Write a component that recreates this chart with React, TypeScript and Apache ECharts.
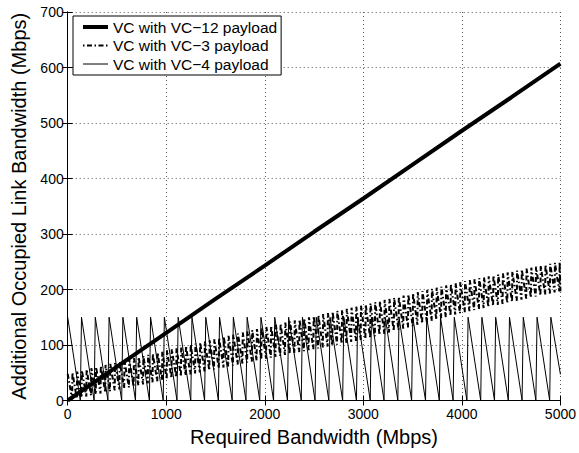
import React, { useEffect, useRef } from "react";
import * as echarts from "echarts";

// ---- axes ----
const X_MIN = 0;
const X_MAX = 5000;
const X_STEP = 1000;
const Y_MIN = 0;
const Y_MAX = 700;
const Y_STEP = 100;
const xAxisTitle = "Required Bandwidth (Mbps)";
const yAxisTitle = "Additional Occupied Link Bandwidth (Mbps)";

// ---- series names ----
const seriesNames = [
  "VC with VC\u221212 payload",
  "VC with VC\u22123 payload",
  "VC with VC\u22124 payload",
];

// ---- VC-12 payload (thick, almost straight) ----
const vc12X = [0, 500, 1000, 1500, 2000, 2500, 3000, 3500, 4000, 4500, 5000];
const vc12Y = [0, 61, 122, 183, 243, 304, 364, 425, 486, 546, 607];

// ---- VC-3 payload (dense dash-dot sawtooth band) ----
const vc3EnvX = [0, 1000, 2000, 3000, 4000, 5000];
const vc3Low = [0, 38, 75, 110, 158, 197];
const vc3High = [48, 90, 132, 172, 214, 250];
const vc3ToothWidth = 48;

// ---- VC-4 payload (thin sawtooth 150 -> 0) ----
const vc4ToothStarts = [
  0, 140, 280, 420, 560, 700, 841, 981, 1121, 1261, 1401, 1541, 1681, 1821,
  1961, 2101, 2242, 2382, 2522, 2662, 2802, 2942, 3082, 3222, 3362, 3502,
  3643, 3783, 3923, 4063, 4203, 4343, 4483, 4623, 4763, 4903,
];
const vc4Top = 150;
const vc4Bottom = 0;
const vc4EndValue = 47;

function envAt(xs: number[], ys: number[], x: number) {
  for (let i = 0; i < xs.length - 1; i++) {
    if (x <= xs[i + 1]) {
      const t = (x - xs[i]) / (xs[i + 1] - xs[i]);
      return ys[i] + t * (ys[i + 1] - ys[i]);
    }
  }
  return ys[ys.length - 1];
}

function buildVc3() {
  const pts: number[][] = [];
  for (let s = X_MIN; s < X_MAX; s += vc3ToothWidth) {
    const e = Math.min(s + vc3ToothWidth - 3, X_MAX);
    pts.push([s, envAt(vc3EnvX, vc3High, s)]);
    pts.push([e, envAt(vc3EnvX, vc3Low, e)]);
  }
  return pts;
}

function buildVc4() {
  const pts: number[][] = [];
  for (let i = 0; i < vc4ToothStarts.length; i++) {
    pts.push([vc4ToothStarts[i], vc4Top]);
    if (i + 1 < vc4ToothStarts.length) {
      pts.push([vc4ToothStarts[i + 1] - 12, vc4Bottom]);
    } else {
      pts.push([X_MAX, vc4EndValue]);
    }
  }
  return pts;
}

const FONT = "Liberation Sans";
const DASH_DOT = [5, 2.5, 1.5, 2.5];

export default function App() {
  const ref = useRef<HTMLDivElement>(null);
  useEffect(() => {
    if (!ref.current) return;
    const chart = echarts.init(ref.current, undefined, { renderer: "svg" });
    const gridLine = { show: true, lineStyle: { color: "#555", width: 1, type: [1, 3] as any } };
    const plain = (v: number) => String(v);
    chart.setOption({
      animation: false,
      backgroundColor: "#fff",
      textStyle: { fontFamily: FONT, color: "#000" },
      grid: { left: 67.7, right: 17.3, top: 12, bottom: 52.5, containLabel: false },
      legend: {
        data: [
          { name: seriesNames[0], lineStyle: { width: 4, color: "#000", type: "solid" } },
          { name: seriesNames[1], lineStyle: { width: 2, color: "#000", type: [1.5, 2.5, 5, 2.5] } },
          { name: seriesNames[2], lineStyle: { width: 1, color: "#000", type: "solid" } },
        ],
        orient: "vertical",
        left: 73,
        top: 16,
        padding: [3, 4, 3, 8],
        itemWidth: 25,
        itemHeight: 14,
        itemGap: 2.5,
        backgroundColor: "#fff",
        borderColor: "#000",
        borderWidth: 1,
        borderRadius: 0,
        itemStyle: { opacity: 0 },
        textStyle: { fontFamily: FONT, fontSize: 15.5, color: "#000", lineHeight: 16 },
      },
      xAxis: [
        {
          type: "value",
          min: X_MIN,
          max: X_MAX,
          interval: X_STEP,
          name: xAxisTitle,
          nameLocation: "middle",
          nameGap: 26,
          nameTextStyle: { fontFamily: FONT, fontSize: 20, color: "#000" },
          axisLine: { show: true, lineStyle: { color: "#000", width: 1 } },
          axisTick: { show: true, inside: true, length: 5, lineStyle: { color: "#000" } },
          axisLabel: { fontFamily: FONT, fontSize: 14, color: "#000", margin: 6, formatter: plain },
          splitLine: gridLine,
        },
        {
          type: "value",
          position: "top",
          min: X_MIN,
          max: X_MAX,
          interval: X_STEP,
          axisLine: { show: true, lineStyle: { color: "#000", width: 1 } },
          axisTick: { show: true, inside: true, length: 5, lineStyle: { color: "#000" } },
          axisLabel: { show: false },
          splitLine: { show: false },
        },
      ],
      yAxis: [
        {
          type: "value",
          min: Y_MIN,
          max: Y_MAX,
          interval: Y_STEP,
          name: yAxisTitle,
          nameLocation: "middle",
          nameGap: 31,
          nameRotate: 90,
          nameTextStyle: { fontFamily: FONT, fontSize: 20, color: "#000" },
          axisLine: { show: true, lineStyle: { color: "#000", width: 1 } },
          axisTick: { show: true, inside: true, length: 5, lineStyle: { color: "#000" } },
          axisLabel: { fontFamily: FONT, fontSize: 14, color: "#000", margin: 4, formatter: plain },
          splitLine: gridLine,
        },
        {
          type: "value",
          position: "right",
          min: Y_MIN,
          max: Y_MAX,
          interval: Y_STEP,
          axisLine: { show: true, lineStyle: { color: "#000", width: 1 } },
          axisTick: { show: true, inside: true, length: 5, lineStyle: { color: "#000" } },
          axisLabel: { show: false },
          splitLine: { show: false },
        },
      ],
      series: [
        {
          name: seriesNames[2],
          type: "line",
          xAxisIndex: 0,
          yAxisIndex: 0,
          symbol: "none",
          data: buildVc4(),
          lineStyle: { color: "#000", width: 1 },
          itemStyle: { color: "#000" },
          z: 2,
        },
        {
          name: seriesNames[1],
          type: "line",
          xAxisIndex: 0,
          yAxisIndex: 0,
          symbol: "none",
          data: buildVc3(),
          lineStyle: { color: "#000", width: 2, type: DASH_DOT as any },
          itemStyle: { color: "#000" },
          z: 3,
        },
        {
          name: seriesNames[0],
          type: "line",
          xAxisIndex: 0,
          yAxisIndex: 0,
          symbol: "none",
          data: vc12X.map((x, i) => [x, vc12Y[i]]),
          lineStyle: { color: "#000", width: 4 },
          itemStyle: { color: "#000" },
          z: 4,
        },
      ],
    });
    return () => chart.dispose();
  }, []);
  return (
    <div
      ref={ref}
      style={{ position: "fixed", left: 0, top: 0, width: 579, height: 453, background: "#fff" }}
    />
  );
}
